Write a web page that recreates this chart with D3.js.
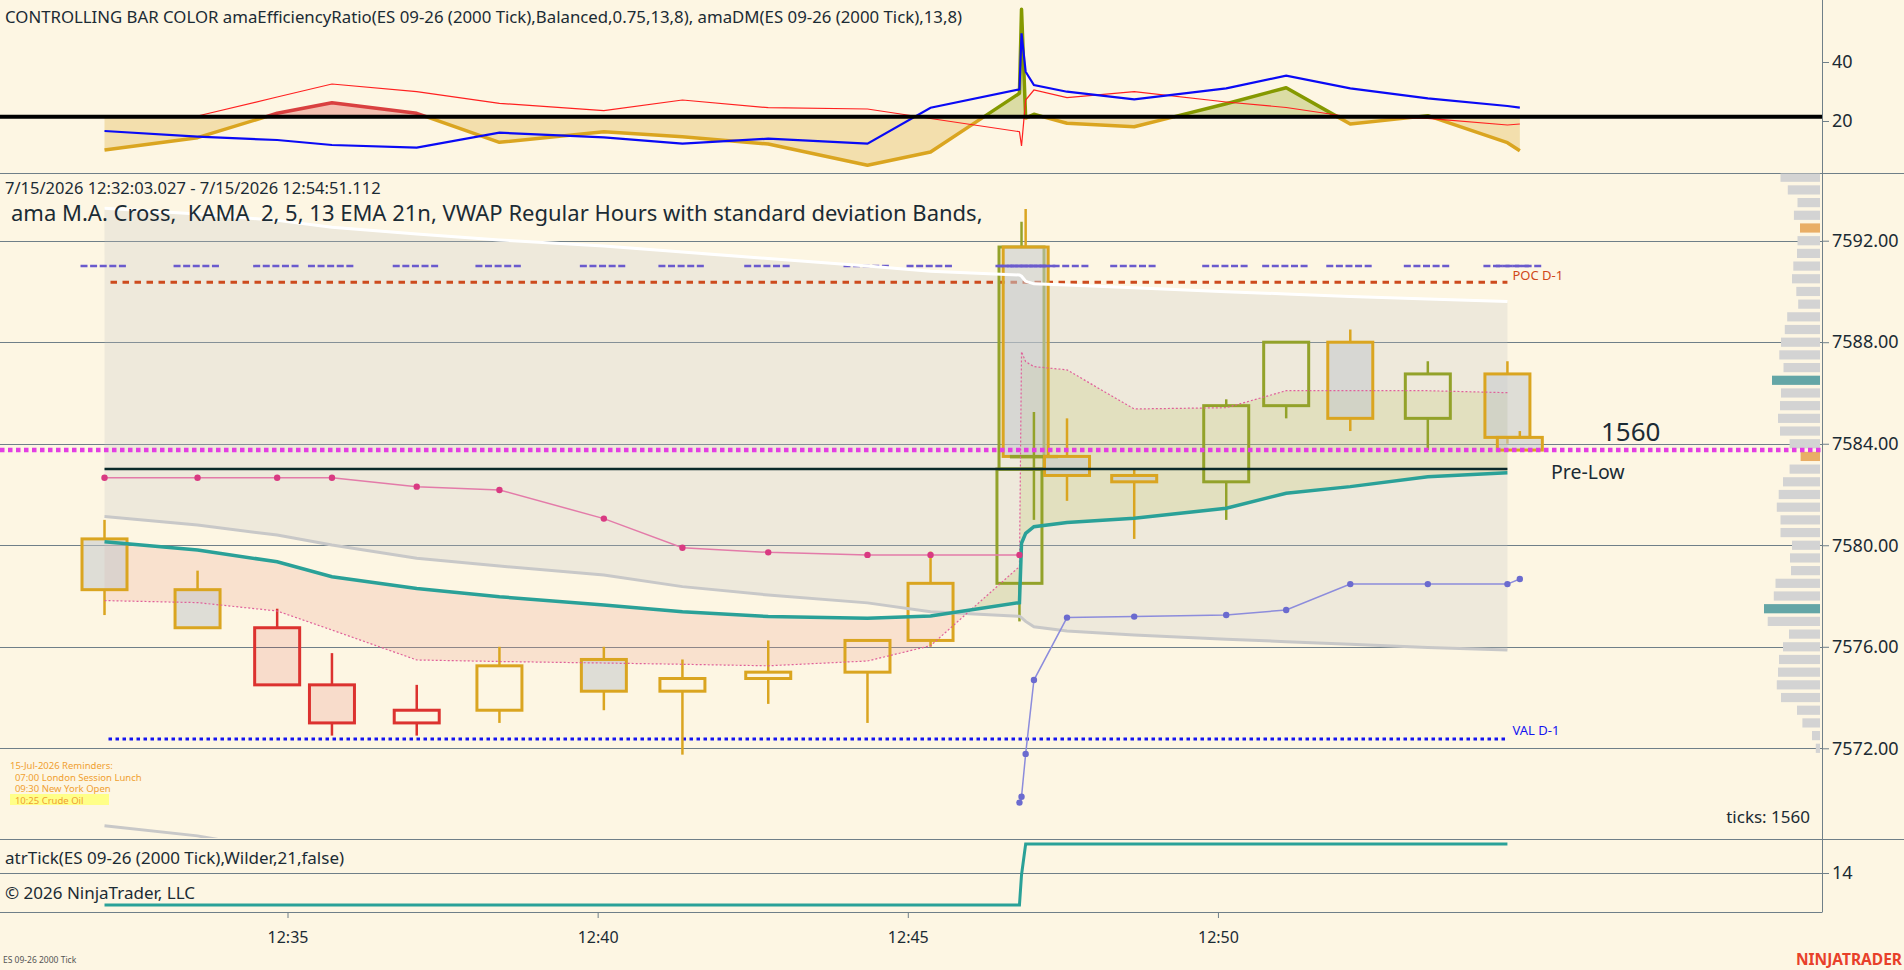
<!DOCTYPE html>
<html>
<head>
<meta charset="utf-8">
<script src="https://cdn.jsdelivr.net/npm/d3@7"></script>
<style>
body { margin: 0; background: #fdf6e3; overflow: hidden; }
text { font-family: "Noto Sans", "Open Sans", sans-serif; fill: #1b2b34; }
</style>
</head>
<body>
<div id="chart"></div>
<script>
// 2000 tick bars, ES 09-26
var candleTimes = ["12:32:03","12:33:33","12:34:50","12:35:43","12:37:05","12:38:25","12:40:06","12:41:22","12:42:45","12:44:21","12:45:22","12:46:48","12:46:50","12:46:54","12:47:02","12:47:34","12:48:39","12:50:08","12:51:06","12:52:08","12:53:23","12:54:40","12:54:52"];
var opens  = [7580.25,7578.25,7576.75,7574.5,7573.0,7573.5,7575.5,7574.25,7574.75,7575.0,7576.25,7578.5,7583.0,7591.75,7583.5,7583.5,7582.75,7582.5,7585.5,7588.0,7585.0,7586.75,7584.25];
var highs  = [7581.0,7579.0,7577.5,7575.75,7574.5,7576.0,7576.0,7575.5,7576.25,7576.25,7579.75,7583.0,7592.75,7593.25,7585.25,7585.0,7583.0,7585.75,7588.0,7588.5,7587.25,7587.25,7584.5];
var lows   = [7577.25,7576.75,7574.5,7572.5,7572.5,7573.0,7573.5,7571.75,7573.75,7573.0,7576.0,7577.0,7583.0,7583.5,7581.0,7581.75,7580.25,7581.0,7585.0,7584.5,7583.75,7584.0,7583.75];
var closes = [7578.25,7576.75,7574.5,7573.0,7573.5,7575.25,7574.25,7574.75,7575.0,7576.25,7578.5,7583.0,7591.75,7583.5,7583.5,7582.75,7582.5,7585.5,7588.0,7585.0,7586.75,7584.25,7583.75];

// top panel: amaEfficiencyRatio + amaDM
var erValues = [10.17,14.34,22.61,26.2,22.61,12.78,16.37,14.68,12.2,4.98,9.49,29.39,57.86,21.0,22.27,19.22,18.07,25.86,31.29,18.98,21.8,12.64,9.93];
var plusDM   = [16.61,14.68,13.56,11.86,10.95,16.03,14.47,12.31,14.0,12.31,24.51,30.75,49.73,36.71,32.2,29.93,27.36,31.08,35.36,31.08,27.69,25.08,24.51];
var minusDM  = [21.69,21.69,28.14,32.54,29.93,26.0,23.49,27.12,24.51,24.07,20.85,16.37,11.53,27.12,30.51,27.9,29.93,26.44,24.58,21.36,20.92,18.64,18.98];
var erThreshold = 21.4;

// price panel overlays
var vwapUpper = [7593.28,7593.05,7592.8,7592.53,7592.26,7592.03,7591.79,7591.55,7591.3,7591.0,7590.8,7590.65,7590.6,7590.4,7590.3,7590.25,7590.15,7589.99,7589.9,7589.8,7589.7,7589.6,null];
var vwapLower = [7581.13,7580.8,7580.4,7580.01,7579.49,7579.18,7578.83,7578.37,7578.04,7577.73,7577.38,7577.2,7577.15,7577.0,7576.79,7576.62,7576.46,7576.3,7576.2,7576.1,7575.97,7575.87,null];
var vwapLower2 = [7568.95,7568.55,7568.0,7567.5,7566.7,7566.3,7565.9,7565.2,7564.8,7564.4,7564.0,7563.8,7563.7,7563.5,7563.3,7563.0,7562.8,7562.6,7562.5,7562.4,7562.2,7562.1,null];
var emaLine = [7580.14,7579.81,7579.35,7578.76,7578.3,7577.97,7577.65,7577.38,7577.19,7577.12,7577.21,7577.74,7580.08,7580.47,7580.73,7580.9,7581.06,7581.46,7582.05,7582.31,7582.7,7582.86,null];
var kamaLine = [7577.82,7577.74,7577.41,7576.66,7575.48,7575.42,7575.36,7575.31,7575.25,7575.44,7576.04,7579.16,7587.63,7587.23,7587.04,7586.91,7585.37,7585.42,7586.09,7586.09,7586.09,7586.01,null];
var stopShort = [7582.66,7582.66,7582.66,7582.66,7582.31,7582.18,7581.05,7579.9,7579.72,7579.62,7579.62,7579.62,null,null,null,null,null,null,null,null,null,null,null];
var stopLong = [null,null,null,null,null,null,null,null,null,null,null,7569.86,7570.09,7571.78,7574.69,7577.15,7577.19,7577.25,7577.45,7578.47,7578.47,7578.47,7578.67];
var atrTicks = [12.4,12.4,12.4,12.4,12.4,12.4,12.4,12.4,12.4,12.4,12.4,12.4,13.9,15.45,15.45,15.45,15.45,15.45,15.45,15.45,15.45,15.45,null];

var hashLevel = 7591.0;
var pocPrev = 7590.36;
var valPrev = 7572.37;
var preLow = 7583.0;
var tickLevel = 7583.75;

// volume profile (right edge)
var profilePrices = [7594.5,7594.0,7593.5,7593.0,7592.5,7592.0,7591.5,7591.0,7590.5,7590.0,7589.5,7589.0,7588.5,7588.0,7587.5,7587.0,7586.5,7586.0,7585.5,7585.0,7584.5,7584.0,7583.5,7583.0,7582.5,7582.0,7581.5,7581.0,7580.5,7580.0,7579.5,7579.0,7578.5,7578.0,7577.5,7577.0,7576.5,7576.0,7575.5,7575.0,7574.5,7574.0,7573.5,7573.0,7572.5,7572.0];
var profileVolumes = [395,322,225,261,200,225,230,267,280,237,218,328,352,390,407,365,480,390,400,420,400,304,194,304,370,413,432,395,395,280,300,290,445,462,560,523,310,370,410,420,432,390,230,176,80,42];
var profileHigh = [7586.5, 7577.5];
var profileLow = [7592.5, 7583.5];

var priceTicks = [7572, 7576, 7580, 7584, 7588, 7592];
var topTicks = [20, 40];
var atrTicksAxis = [14];
var timeTicks = ["12:35:00", "12:40:00", "12:45:00", "12:50:00"];

var reminders = ["15-Jul-2026 Reminders:", "  07:00 London Session Lunch", "  09:30 New York Open", "  10:25 Crude Oil"];

var gold = "#DAA520", olive = "#93A22A", red = "#DC322F";

var parseT = d3.timeParse("%H:%M:%S");
var bars = candleTimes.map(function(t, i) {
	return {t: parseT(t), o: opens[i], h: highs[i], l: lows[i], c: closes[i],
		er: erValues[i], plus: plusDM[i], minus: minusDM[i]};
});
function barColor(d) {
	if (d.er > erThreshold) return d.plus > d.minus ? olive : red;
	return gold;
}

var x = d3.scaleTime().domain([parseT("12:30:00"), parseT("12:55:00")]).range([-22.65, 1528.1]);
var yP = d3.scaleLinear().domain([7568.466, 7594.667]).range([838, 173]);
var yT = d3.scaleLinear().domain([2.37, 61.02]).range([173, 0]);
var yA = d3.scaleLinear().domain([12.05, 15.7]).range([912, 839]);
var vScale = d3.scaleLinear().domain([0, 100]).range([0, 10]);
var axisX = 1822;

var svg = d3.select("#chart").append("svg").attr("width", 1904).attr("height", 970);
svg.append("rect").attr("width", 1904).attr("height", 970).attr("fill", "#fdf6e3");

var defs = svg.append("defs");
function addClip(id, y0, y1) {
	defs.append("clipPath").attr("id", id).append("rect")
		.attr("x", 0).attr("y", y0).attr("width", axisX).attr("height", y1 - y0);
}
addClip("clipTop", 0, 173);
addClip("clipPrice", 173.5, 838);
addClip("clipAtr", 839.5, 912);

// splits the band between two lines into runs where the sign of diff stays the same
function runsBetween(px, pa, pb, diff) {
	var runs = [];
	var cur = {sign: diff[0] >= 0, a: [[px[0], pa[0]]], b: [[px[0], pb[0]]], idx: [0]};
	for (var i = 1; i < px.length; i++) {
		var sg = diff[i] >= 0;
		if (sg !== cur.sign) {
			var t = diff[i - 1] / (diff[i - 1] - diff[i]);
			var xm = px[i - 1] + t * (px[i] - px[i - 1]);
			var ym = pa[i - 1] + t * (pa[i] - pa[i - 1]);
			cur.a.push([xm, ym]); cur.b.push([xm, ym]);
			runs.push(cur);
			cur = {sign: sg, a: [[xm, ym]], b: [[xm, ym]], idx: []};
		}
		cur.a.push([px[i], pa[i]]); cur.b.push([px[i], pb[i]]); cur.idx.push(i);
	}
	runs.push(cur);
	return runs;
}
function poly(run) { return "M" + run.a.concat(run.b.slice().reverse()).join("L") + "Z"; }

function seriesLine(values, yScale) {
	return d3.line()
		.defined(function(d, i) { return values[i] != null; })
		.x(function(d) { return x(d.t); })
		.y(function(d, i) { return yScale(values[i]); })(bars);
}

// ---------------- frame ----------------
var frame = svg.append("g").attr("stroke", "#6f7f88").attr("stroke-width", 1);
frame.append("line").attr("x1", 0).attr("x2", 1904).attr("y1", 173.5).attr("y2", 173.5);
frame.append("line").attr("x1", 0).attr("x2", 1904).attr("y1", 839.5).attr("y2", 839.5);
frame.append("line").attr("x1", 0).attr("x2", axisX).attr("y1", 912.5).attr("y2", 912.5);
frame.append("line").attr("x1", axisX + 0.5).attr("x2", axisX + 0.5).attr("y1", 0).attr("y2", 912.5);

svg.append("g").selectAll("line").data(priceTicks).enter().append("line")
	.attr("x1", 0).attr("x2", axisX)
	.attr("y1", function(d) { return Math.round(yP(d)) + 0.5; })
	.attr("y2", function(d) { return Math.round(yP(d)) + 0.5; })
	.attr("stroke", "#6f7f88").attr("stroke-width", 1);
svg.append("line").attr("x1", 0).attr("x2", axisX)
	.attr("y1", Math.round(yA(14)) + 0.5).attr("y2", Math.round(yA(14)) + 0.5)
	.attr("stroke", "#6f7f88").attr("stroke-width", 1);

function styleAxis(g) {
	g.select(".domain").remove();
	g.attr("font-family", "Noto Sans").attr("font-size", 18);
	g.selectAll("line").attr("stroke", "#6f7f88");
	g.selectAll("text").attr("fill", "#1b2b34");
}
svg.append("g").attr("transform", "translate(" + axisX + ",0)")
	.call(d3.axisRight(yP).tickValues(priceTicks).tickFormat(d3.format(".2f")).tickSize(7).tickPadding(3))
	.call(styleAxis);
svg.append("g").attr("transform", "translate(" + axisX + ",0)")
	.call(d3.axisRight(yT).tickValues(topTicks).tickFormat(d3.format("d")).tickSize(7).tickPadding(3))
	.call(styleAxis);
svg.append("g").attr("transform", "translate(" + axisX + ",0)")
	.call(d3.axisRight(yA).tickValues(atrTicksAxis).tickFormat(d3.format("d")).tickSize(7).tickPadding(3))
	.call(styleAxis);
var xAxisG = svg.append("g").attr("transform", "translate(0,912)")
	.call(d3.axisBottom(x).tickValues(timeTicks.map(parseT)).tickFormat(d3.timeFormat("%H:%M")).tickSize(6))
	.call(styleAxis);
xAxisG.attr("font-size", 16);
xAxisG.selectAll("text").attr("y", 25).attr("dy", "0.35em");

// ---------------- top panel ----------------
var topG = svg.append("g").attr("clip-path", "url(#clipTop)");
var px = bars.map(function(d) { return x(d.t); });
var erPx = erValues.map(function(v) { return yT(v); });
var basePx = erValues.map(function() { return yT(erThreshold); });
var erRuns = runsBetween(px, erPx, basePx, erValues.map(function(v) { return v - erThreshold; }));
erRuns.forEach(function(run) {
	var col = run.sign ? barColor(bars[run.idx[0]]) : gold;
	var fillCol = col === olive ? "#859900" : col;
	topG.append("path").attr("d", poly(run)).attr("fill", fillCol).attr("fill-opacity", 0.28);
});
erRuns.forEach(function(run) {
	var col = run.sign ? barColor(bars[run.idx[0]]) : gold;
	if (col === olive) col = "#859900";
	if (col === red) col = "#D94040";
	topG.append("path").attr("d", d3.line()(run.a)).attr("fill", "none")
		.attr("stroke", col).attr("stroke-width", 3.5).attr("stroke-linejoin", "round");
});
svg.append("line").attr("x1", 0).attr("x2", axisX)
	.attr("y1", yT(erThreshold)).attr("y2", yT(erThreshold))
	.attr("stroke", "#000").attr("stroke-width", 4);
topG.append("path").attr("d", seriesLine(minusDM, yT)).attr("fill", "none")
	.attr("stroke", "#FF2020").attr("stroke-width", 1.2);
topG.append("path").attr("d", seriesLine(plusDM, yT)).attr("fill", "none")
	.attr("stroke", "#0A0AF5").attr("stroke-width", 2.2);

svg.append("text").attr("x", 5).attr("y", 17).attr("dy", "0.35em").attr("font-size", 16.8)
	.text("CONTROLLING BAR COLOR amaEfficiencyRatio(ES 09-26 (2000 Tick),Balanced,0.75,13,8), amaDM(ES 09-26 (2000 Tick),13,8)");

// ---------------- price panel ----------------
var price = svg.append("g").attr("clip-path", "url(#clipPrice)");
var n = 22; // indicator plots stop at the last closed bar
var pxP = px.slice(0, n);

// VWAP band fill
price.append("path")
	.attr("d", d3.area()
		.defined(function(d, i) { return vwapUpper[i] != null; })
		.x(function(d) { return x(d.t); })
		.y0(function(d, i) { return yP(vwapLower[i]); })
		.y1(function(d, i) { return yP(vwapUpper[i]); })(bars))
	.attr("fill", "#C4C4C4").attr("fill-opacity", 0.25);

// KAMA / EMA cross fill
var crossRuns = runsBetween(pxP,
	emaLine.slice(0, n).map(yP),
	kamaLine.slice(0, n).map(yP),
	kamaLine.slice(0, n).map(function(v, i) { return v - emaLine[i]; }));
crossRuns.forEach(function(run) {
	price.append("path").attr("d", poly(run))
		.attr("fill", run.sign ? "#B4BE50" : "#F0A090")
		.attr("fill-opacity", run.sign ? 0.2 : 0.24);
});

// volume profile
price.append("g").selectAll("rect").data(profilePrices).enter().append("rect")
	.attr("x", function(d, i) { return 1820 - vScale(profileVolumes[i]); })
	.attr("y", function(d) { return yP(d + 0.25) + 1.75; })
	.attr("width", function(d, i) { return vScale(profileVolumes[i]); })
	.attr("height", yP(7580) - yP(7580.5) - 3.5)
	.attr("fill", function(d) {
		if (profileHigh.indexOf(d) >= 0) return "#64A6A6";
		if (profileLow.indexOf(d) >= 0) return "#E9AE66";
		return "#D3D3D3";
	});

// prior day levels
var xStart = x(bars[0].t), xEnd = x(bars[n - 1].t);
price.append("line").attr("x1", xStart + 6).attr("x2", xEnd)
	.attr("y1", yP(pocPrev)).attr("y2", yP(pocPrev))
	.attr("stroke", "#CD4B1E").attr("stroke-width", 3).attr("stroke-dasharray", "6.5,5.5");
price.append("line").attr("x1", xStart + 4).attr("x2", xEnd)
	.attr("y1", yP(valPrev)).attr("y2", yP(valPrev))
	.attr("stroke", "#1414F0").attr("stroke-width", 3).attr("stroke-dasharray", "3.5,3.5");

// candles
var bodyW = 45;
var candle = price.append("g").selectAll("g").data(bars).enter().append("g")
	.attr("stroke", barColor);
candle.append("line")
	.attr("x1", function(d) { return x(d.t); }).attr("x2", function(d) { return x(d.t); })
	.attr("y1", function(d) { return yP(d.h); })
	.attr("y2", function(d) { return yP(Math.max(d.o, d.c)); })
	.attr("stroke-width", 2.5);
candle.append("line")
	.attr("x1", function(d) { return x(d.t); }).attr("x2", function(d) { return x(d.t); })
	.attr("y1", function(d) { return yP(Math.min(d.o, d.c)); })
	.attr("y2", function(d) { return yP(d.l); })
	.attr("stroke-width", 2.5);
candle.append("rect")
	.attr("x", function(d) { return x(d.t) - bodyW / 2; })
	.attr("y", function(d) { return yP(Math.max(d.o, d.c)); })
	.attr("width", bodyW)
	.attr("height", function(d) { return Math.max(yP(Math.min(d.o, d.c)) - yP(Math.max(d.o, d.c)), 0.5); })
	.attr("stroke-width", 3)
	.attr("fill", function(d) {
		if (d.c >= d.o) return "none";
		return barColor(d) === red ? red : "#C4C8CC";
	})
	.attr("fill-opacity", function(d) { return barColor(d) === red ? 0.13 : 0.55; });

// hash marks per bar
price.append("g").selectAll("line").data(bars).enter().append("line")
	.attr("x1", function(d) { return x(d.t) - 24; })
	.attr("x2", function(d) { return x(d.t) + 24; })
	.attr("y1", yP(hashLevel)).attr("y2", yP(hashLevel))
	.attr("stroke", "#6A5ACD").attr("stroke-width", 2.5).attr("stroke-dasharray", "7,2.6");

// VWAP lines
price.append("path").attr("d", seriesLine(vwapLower2, yP)).attr("fill", "none")
	.attr("stroke", "#C8C8C8").attr("stroke-width", 3);
price.append("path").attr("d", seriesLine(vwapLower, yP)).attr("fill", "none")
	.attr("stroke", "#C8C8C8").attr("stroke-width", 3);
price.append("path").attr("d", seriesLine(vwapUpper, yP)).attr("fill", "none")
	.attr("stroke", "#FFFFFF").attr("stroke-width", 3);

// KAMA (dotted) and EMA
price.append("path").attr("d", seriesLine(kamaLine, yP)).attr("fill", "none")
	.attr("stroke", "#E0609A").attr("stroke-width", 1.2).attr("stroke-dasharray", "2,2");
price.append("path").attr("d", seriesLine(emaLine, yP)).attr("fill", "none")
	.attr("stroke", "#2AA198").attr("stroke-width", 3.5);

// trailing stops with dots
function dotted(values, lineCol, dotCol) {
	price.append("path").attr("d", seriesLine(values, yP)).attr("fill", "none")
		.attr("stroke", lineCol).attr("stroke-width", 1.5);
	price.append("g").selectAll("circle")
		.data(bars.filter(function(d, i) { return values[i] != null; }))
		.enter().append("circle")
		.attr("cx", function(d) { return x(d.t); })
		.attr("cy", function(d) { return yP(values[bars.indexOf(d)]); })
		.attr("r", 3.2).attr("fill", dotCol);
}
dotted(stopShort, "#E37BA9", "#D93A82");
dotted(stopLong, "#8C8CDC", "#6B6BCF");

// tick counter level and pre-low
svg.append("line").attr("x1", 0).attr("x2", axisX)
	.attr("y1", yP(tickLevel)).attr("y2", yP(tickLevel))
	.attr("stroke", "#E33EE3").attr("stroke-width", 4.5).attr("stroke-dasharray", "4.5,3.5");
price.append("line").attr("x1", xStart).attr("x2", xEnd)
	.attr("y1", yP(preLow)).attr("y2", yP(preLow))
	.attr("stroke", "#0A2A2A").attr("stroke-width", 2.5);

// labels
svg.append("text").attr("x", xEnd + 5).attr("y", yP(pocPrev) - 7).attr("dy", "0.35em")
	.attr("font-size", 13).style("fill", "#D04818").text("POC D-1");
svg.append("text").attr("x", xEnd + 5).attr("y", yP(valPrev) - 8).attr("dy", "0.35em")
	.attr("font-size", 13).style("fill", "#1414F0").text("VAL D-1");
svg.append("text").attr("x", 1601).attr("y", yP(tickLevel) - 18).attr("dy", "0.35em")
	.attr("font-size", 26).text("1560");
svg.append("text").attr("x", 1551).attr("y", yP(preLow) + 3).attr("dy", "0.35em")
	.attr("font-size", 19.5).text("Pre-Low");
svg.append("text").attr("x", 1810).attr("y", 817).attr("dy", "0.35em").attr("text-anchor", "end")
	.attr("font-size", 17).text("ticks: 1560");

svg.append("text").attr("x", 5).attr("y", 188.5).attr("dy", "0.35em").attr("font-size", 16.5)
	.text("7/15/2026 12:32:03.027 - 7/15/2026 12:54:51.112");
svg.append("text").attr("x", 11).attr("y", 213.5).attr("dy", "0.35em").attr("font-size", 22)
	.style("white-space", "pre")
	.text("ama M.A. Cross,  KAMA  2, 5, 13 EMA 21n, VWAP Regular Hours with standard deviation Bands,");

svg.append("rect").attr("x", 10).attr("y", 794).attr("width", 99).attr("height", 11).attr("fill", "#FFFF88");
svg.append("g").selectAll("text").data(reminders).enter().append("text")
	.attr("x", 10).attr("y", function(d, i) { return 766 + i * 11.5; }).attr("dy", "0.35em")
	.attr("font-size", 9.5).style("white-space", "pre").style("fill", "#F0A030")
	.text(function(d) { return d; });

// ---------------- ATR panel ----------------
svg.append("g").attr("clip-path", "url(#clipAtr)").append("path")
	.attr("d", seriesLine(atrTicks, yA)).attr("fill", "none")
	.attr("stroke", "#2AA198").attr("stroke-width", 3);
svg.append("text").attr("x", 5).attr("y", 858).attr("dy", "0.35em").attr("font-size", 17)
	.text("atrTick(ES 09-26 (2000 Tick),Wilder,21,false)");
svg.append("text").attr("x", 5).attr("y", 893).attr("dy", "0.35em").attr("font-size", 17)
	.text("\u00A9 2026 NinjaTrader, LLC");

svg.append("text").attr("x", 3).attr("y", 960).attr("dy", "0.35em").attr("font-size", 8.5)
	.style("fill", "#555").text("ES 09-26 2000 Tick");
svg.append("text").attr("x", 1902).attr("y", 960).attr("dy", "0.35em").attr("text-anchor", "end")
	.attr("font-size", 15.5).attr("font-weight", "bold").style("fill", "#E8402A").text("NINJATRADER");
</script>
</body>
</html>
